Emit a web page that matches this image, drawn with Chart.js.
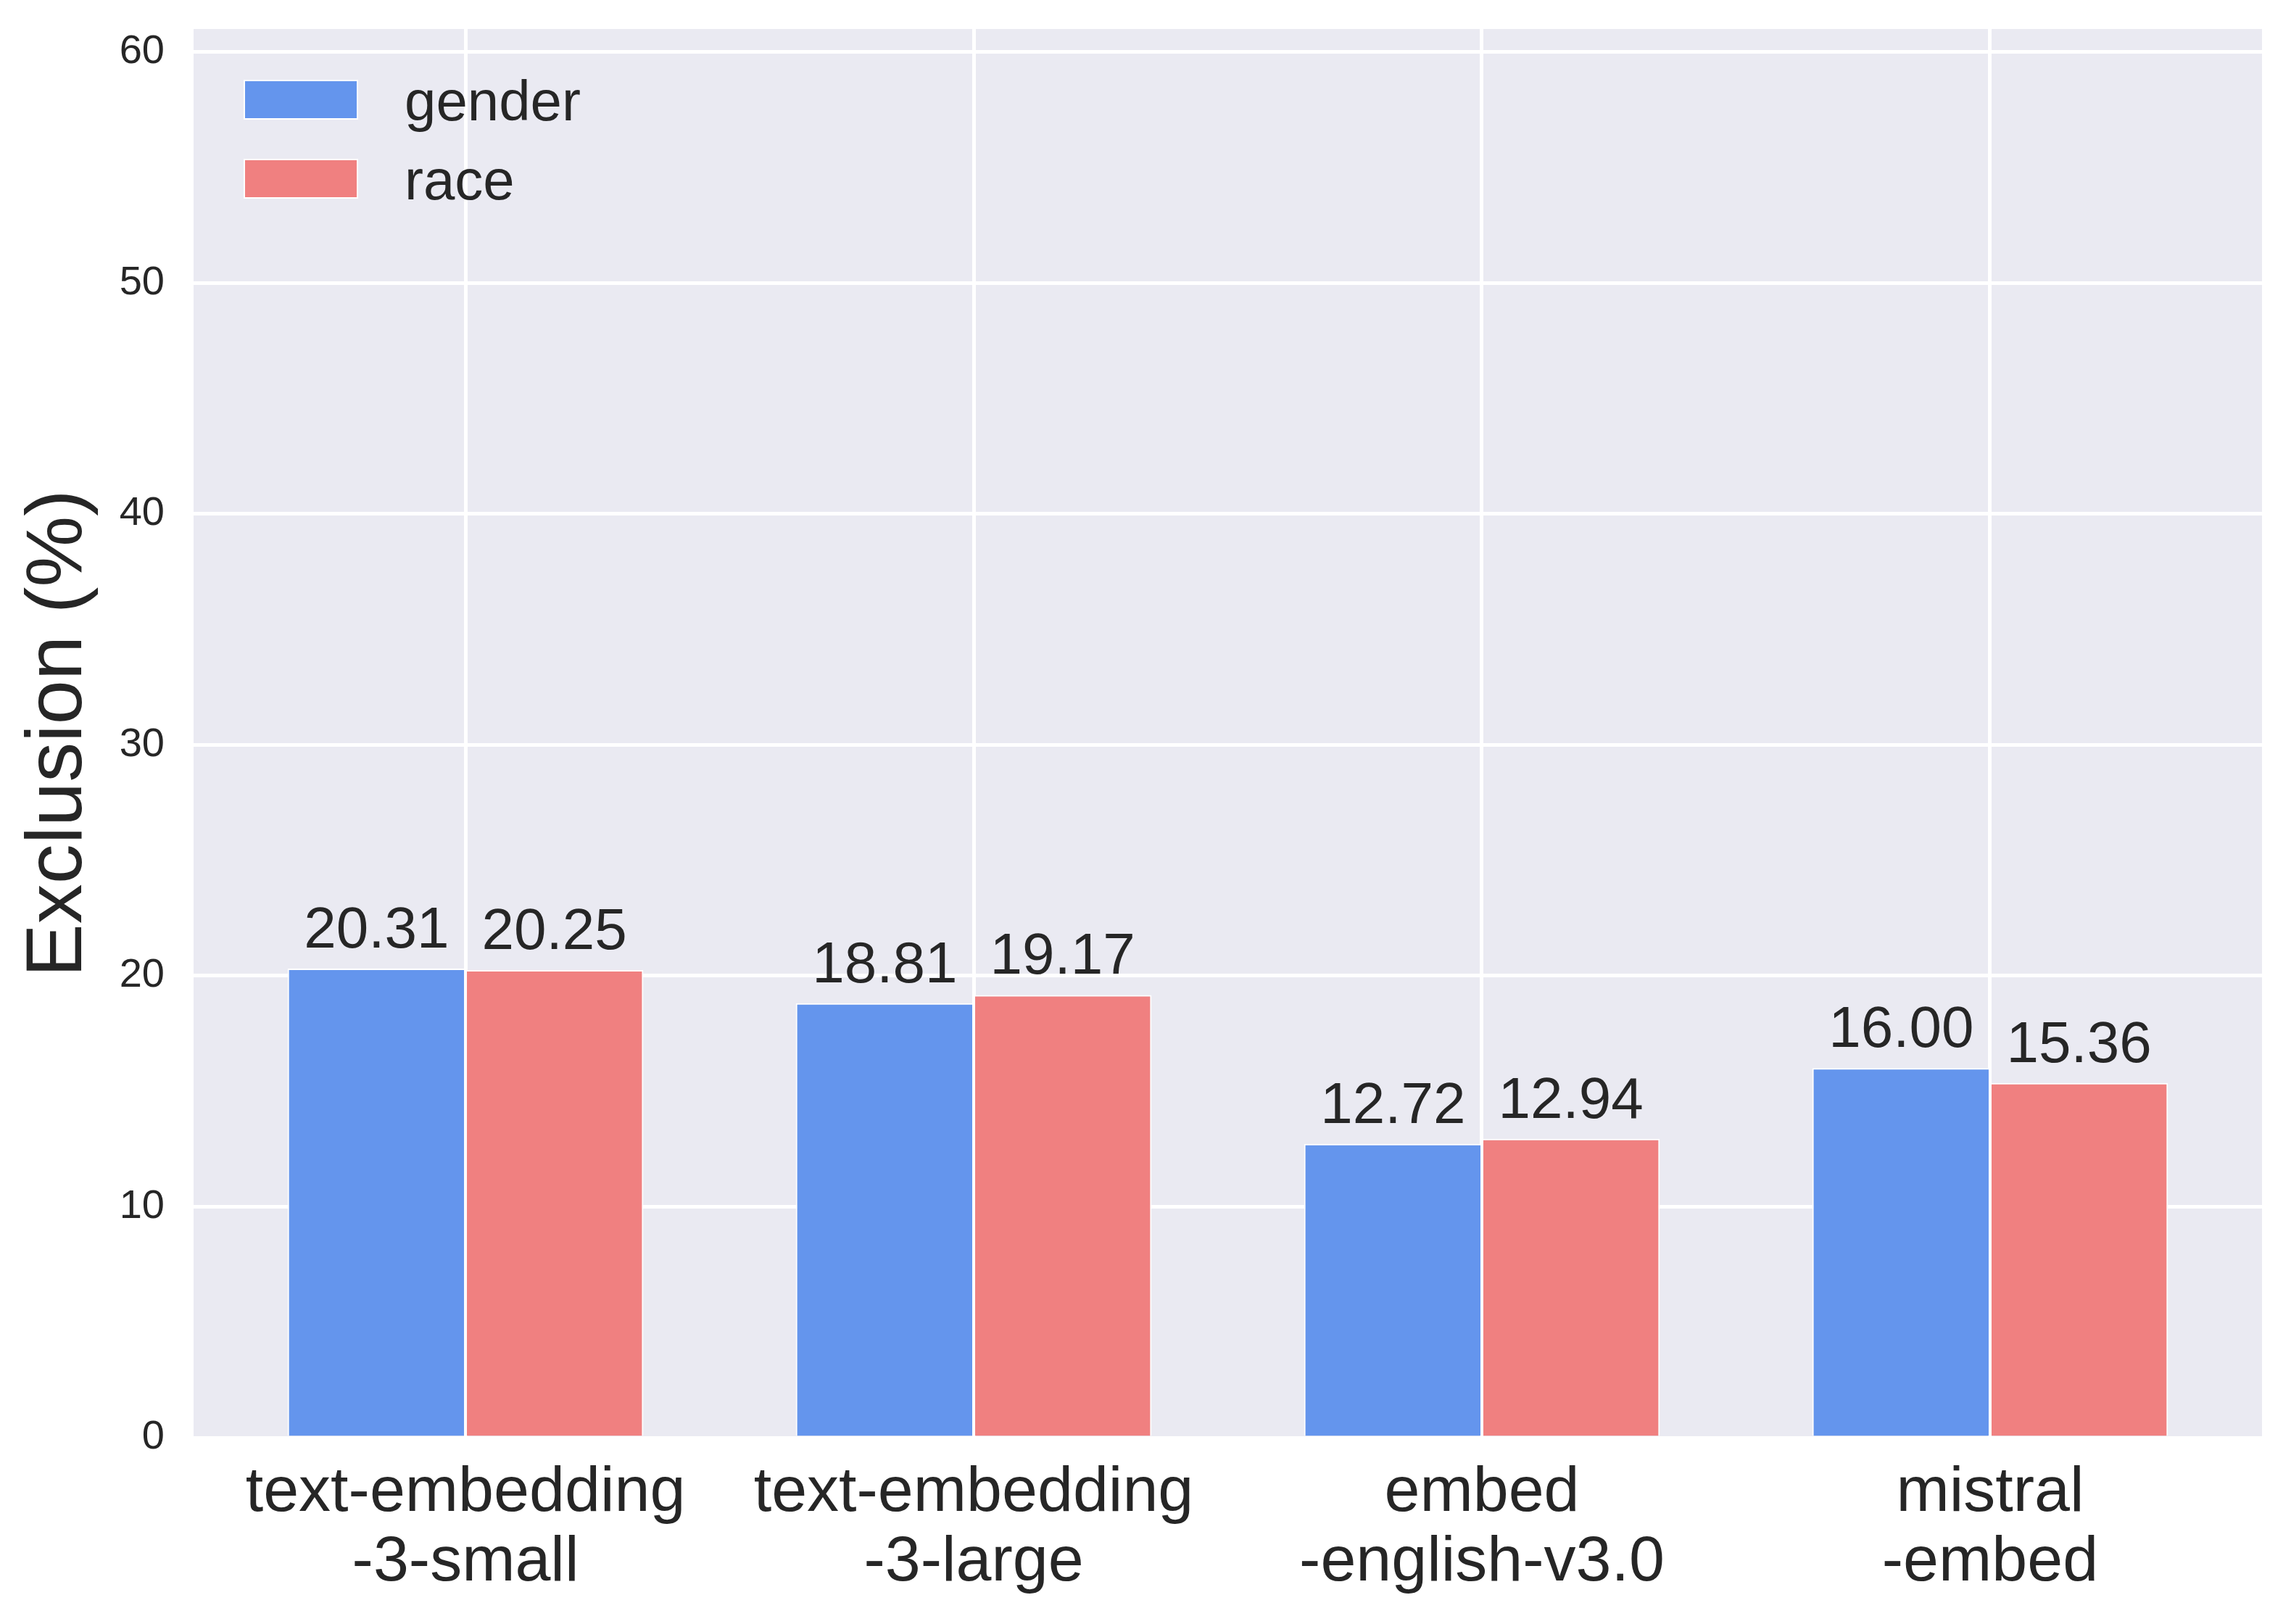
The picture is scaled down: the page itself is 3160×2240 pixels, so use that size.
<!DOCTYPE html>
<html>
<head>
<meta charset="utf-8">
<title>Exclusion (%)</title>
<script src="https://cdn.jsdelivr.net/npm/chart.js@4.4.1/dist/chart.umd.min.js"></script>
<style>
    html, body { margin: 0; padding: 0; background: #ffffff; }
    #exclusionChart { display: block; }
</style>
</head>
<body>
<canvas id="exclusionChart" width="3160" height="2240" style="width:3160px;height:2240px;"></canvas>
<script>
    "use strict";

    // Models (x axis), one label line per array entry
    var models = [
        ['text-embedding', '-3-small'],
        ['text-embedding', '-3-large'],
        ['embed', '-english-v3.0'],
        ['mistral', '-embed']
    ];

    var seriesNames = ['gender', 'race'];
    var genderValues = [20.31, 18.81, 12.72, 16.00];
    var raceValues = [20.25, 19.17, 12.94, 15.36];

    var yTicks = [0, 10, 20, 30, 40, 50, 60];
    var yMax = 61;

    var TEXT_COLOR = '#262626';
    var FONT = "'Liberation Sans', Arial, sans-serif";

    function toPoints(values) {
        return values.map(function (v, i) { return { x: i, y: v }; });
    }

    // plot background like seaborn darkgrid
    var plotBackground = {
        id: 'plotBackground',
        beforeDraw: function (chart) {
            var ctx = chart.ctx;
            var a = chart.chartArea;
            ctx.save();
            ctx.fillStyle = '#ffffff';
            ctx.fillRect(0, 0, chart.width, chart.height);
            ctx.fillStyle = '#EAEAF2';
            ctx.fillRect(a.left, a.top, a.right - a.left, a.bottom - a.top);
            ctx.restore();
        }
    };

    // value labels above each bar
    var barValues = {
        id: 'barValues',
        afterDatasetsDraw: function (chart) {
            var ctx = chart.ctx;
            ctx.save();
            ctx.font = '80px ' + FONT;
            ctx.fillStyle = TEXT_COLOR;
            ctx.textAlign = 'center';
            ctx.textBaseline = 'alphabetic';
            chart.data.datasets.forEach(function (ds, i) {
                var meta = chart.getDatasetMeta(i);
                meta.data.forEach(function (bar, j) {
                    ctx.fillText(ds.data[j].y.toFixed(2), bar.x, bar.y - 29);
                });
            });
            ctx.restore();
        }
    };

    // legend stacked in the upper left of the plot
    var stackedLegend = {
        id: 'stackedLegend',
        afterDraw: function (chart) {
            var ctx = chart.ctx;
            var a = chart.chartArea;
            ctx.save();
            ctx.font = '78px ' + FONT;
            ctx.textBaseline = 'alphabetic';
            ctx.textAlign = 'left';
            chart.data.datasets.forEach(function (ds, i) {
                var bx = a.left + 70;
                var by = a.top + 71 + i * 109;
                ctx.fillStyle = ds.backgroundColor;
                ctx.fillRect(bx, by, 156, 53);
                ctx.strokeStyle = '#ffffff';
                ctx.lineWidth = 2;
                ctx.strokeRect(bx, by, 156, 53);
                ctx.fillStyle = TEXT_COLOR;
                ctx.fillText(ds.label, bx + 221, by + 55);
            });
            ctx.restore();
        }
    };

    // fixed axis boxes, no extra label padding pushed into the layout
    function fixBox(w, h) {
        return function (scale) {
            if (w) scale.width = w;
            if (h) scale.height = h;
            scale.paddingTop = 0;
            scale.paddingBottom = 0;
            scale.paddingLeft = 0;
            scale.paddingRight = 0;
        };
    }

    var ctx = document.getElementById('exclusionChart').getContext('2d');

    new Chart(ctx, {
        type: 'bar',
        data: {
            datasets: [{
                label: seriesNames[0],
                data: toPoints(genderValues),
                backgroundColor: '#6495ED',
                borderColor: '#ffffff',
                borderWidth: 2
            }, {
                label: seriesNames[1],
                data: toPoints(raceValues),
                backgroundColor: '#F08080',
                borderColor: '#ffffff',
                borderWidth: 2
            }]
        },
        options: {
            responsive: false,
            devicePixelRatio: 1,
            animation: false,
            categoryPercentage: 0.7,
            barPercentage: 1.0,
            layout: { padding: { top: 40, right: 40, left: 0, bottom: 0 } },
            plugins: {
                legend: { display: false },
                tooltip: { enabled: false }
            },
            scales: {
                x: {
                    type: 'linear',
                    min: -0.535,
                    max: 3.535,
                    offset: false,
                    afterBuildTicks: function (scale) {
                        scale.ticks = models.map(function (m, i) { return { value: i }; });
                    },
                    afterFit: fixBox(0, 257),
                    grid: { color: '#ffffff', lineWidth: 5, drawTicks: false, offset: false },
                    border: { display: false },
                    ticks: {
                        autoSkip: false,
                        maxRotation: 0,
                        padding: 29,
                        color: TEXT_COLOR,
                        font: { family: FONT, size: 88, lineHeight: '96px' },
                        callback: function (value) { return models[value]; }
                    }
                },
                y: {
                    min: 0,
                    max: yMax,
                    afterBuildTicks: function (scale) {
                        scale.ticks = yTicks.map(function (v) { return { value: v }; });
                    },
                    afterFit: fixBox(267, 0),
                    grid: { color: '#ffffff', lineWidth: 5, drawTicks: false },
                    border: { display: false },
                    ticks: {
                        padding: 40,
                        color: TEXT_COLOR,
                        font: { family: FONT, size: 56 }
                    },
                    title: {
                        display: true,
                        text: 'Exclusion (%)',
                        color: TEXT_COLOR,
                        font: { family: FONT, size: 110, lineHeight: 1 },
                        padding: { top: 27, bottom: 0 }
                    }
                }
            }
        },
        plugins: [plotBackground, barValues, stackedLegend]
    });
</script>
</body>
</html>
